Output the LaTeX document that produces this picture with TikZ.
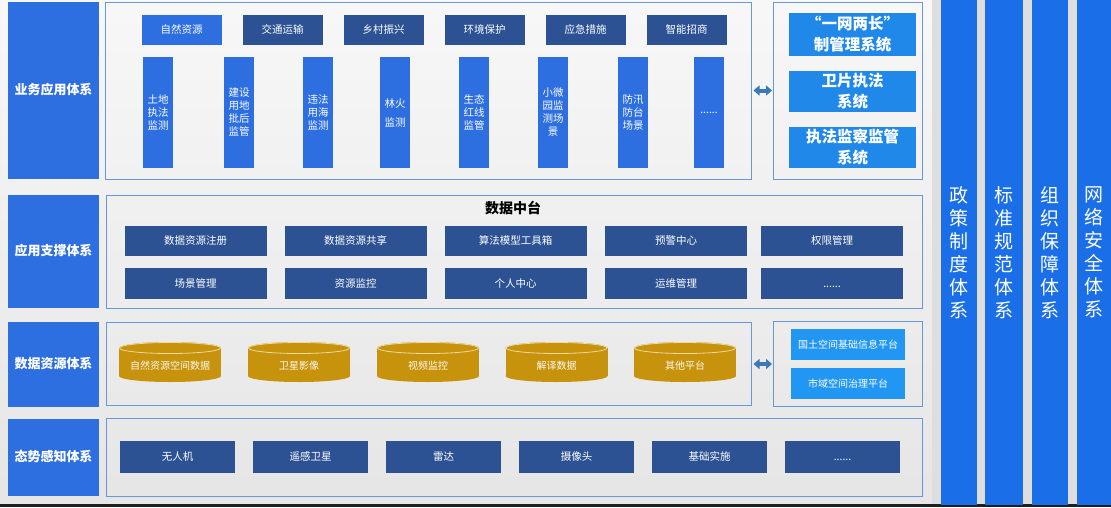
\documentclass[tikz,border=0pt]{standalone}
\usepackage{fontspec}
\setmainfont{Noto Sans CJK SC}
\usepackage{tikz}
\usetikzlibrary{arrows.meta}
\usetikzlibrary{positioning}
\definecolor{lblue}{HTML}{2D6EE1}
\definecolor{dblue}{HTML}{2C5294}
\definecolor{sblue}{HTML}{1F88E8}
\definecolor{pblue}{HTML}{2196F3}
\definecolor{cblue}{HTML}{1A6FE8}
\definecolor{framec}{HTML}{6B96DC}
\definecolor{gold}{HTML}{C8930C}
\definecolor{goldrim}{HTML}{EED9A0}
\definecolor{arrowc}{HTML}{3A78B8}
\newcommand{\moredots}{......}
\tikzset{oneline/.style = {text height=0.88em, text depth=0.12em}}
\tikzset{lbl/.style = {oneline, fill=lblue, text=white, font=\fontsize{13}{16}\selectfont\bfseries,
                       minimum width=91pt, minimum height=#1, inner sep=0}}
\tikzset{frame/.style 2 args = {draw=framec, line width=1pt, minimum width=#1, minimum height=#2, inner sep=0}}
\tikzset{box/.style = {text=white, font=\fontsize{10.5}{13}\selectfont, inner sep=0, align=center}}
\tikzset{bar/.style = {box, fill=lblue, minimum width=30pt, minimum height=111pt}}
\tikzset{sysbox/.style = {box, fill=sblue, font=\fontsize{15.5}{21}\selectfont\bfseries,
                          minimum width=127pt, minimum height=#1}}
\tikzset{platbox/.style = {box, oneline, fill=pblue, font=\fontsize{10}{12}\selectfont,
                           minimum width=114pt, minimum height=31pt}}
\tikzset{col/.style = {fill=cblue, text=white, font=\fontsize{19}{23}\selectfont, align=center,
                       minimum width=36pt, minimum height=505pt, inner sep=0}}
\tikzset{dblarrow/.style = {{Triangle[length=6pt,width=10pt]}-{Triangle[length=6pt,width=10pt]},
                            draw=arrowc, line width=4pt, shorten <=2pt, shorten >=0.5pt}}

\begin{document}
\begin{tikzpicture}[x=1pt, y=-1pt]
  \useasboundingbox (0, 0) rectangle (1111, 507);
  \shade [top color=black!3, bottom color=black!10] (0, 0) rectangle (932, 504);
  \fill [black!13] (932, 0) rectangle (1111, 504);
  \fill [black!88] (0, 504) rectangle (1111, 507);

  % layer titles
  \node [lbl=177pt] (l1) at (53.5, 90.5) {业务应用体系};
  \node [lbl=113pt] (l2) at (53.5, 251.5) {应用支撑体系};
  \node [lbl=85pt] (l3) at (53.5, 364.5) {数据资源体系};
  \node [lbl=77pt] (l4) at (53.5, 457.5) {态势感知体系};

  % frames
  \node [frame={646pt}{177pt}] (appframe) at (428, 90.5) {};
  \node [frame={149pt}{177pt}] (sysframe) at (847.5, 90.5) {};
  \node [frame={816pt}{113pt}] (midframe) at (514, 251.5) {};
  \node [frame={645pt}{83pt}] (dataframe) at (428.5, 364) {};
  \node [frame={149pt}{85pt}] (platframe) at (847.5, 364) {};
  \node [frame={816pt}{78pt}] (senseframe) at (514, 457) {};

  % business applications
  \foreach \i/\txt/\c in {0/自然资源/lblue, 1/交通运输/dblue, 2/乡村振兴/dblue,
                          3/环境保护/dblue, 4/应急措施/dblue, 5/智能招商/dblue}
    \node [box, oneline, fill=\c, minimum width=80pt, minimum height=30pt] (t\i) at (181.5 + 101*\i, 30) {\txt};
  \foreach \i/\x/\txt in {0/158/{土地\\执法\\监测}, 1/239/{建设\\用地\\批后\\监管}, 2/318/{违法\\用海\\监测},
                          3/395/{林火\\[6pt]监测}, 4/474/{生态\\红线\\监管}, 5/553/{小微\\园监\\测场\\景},
                          6/633/{防汛\\防台\\场景}, 7/709/{\moredots}}
    \node [bar] (b\i) at (\x, 112.5) {\txt};
  \node [sysbox=43pt] (s1) at (852.5, 34.5) {“一网两长”\\制管理系统};
  \node [sysbox=41pt] (s2) at (852.5, 91.5) {卫片执法\\系统};
  \node [sysbox=41pt] (s3) at (852.5, 147.5) {执法监察监管\\系统};
  \draw [dblarrow] (appframe) -- (sysframe);

  % data platform
  \node [font=\fontsize{14}{16}\selectfont\bfseries] (mid) at (513, 208) {数据中台};
  \foreach \i/\x/\up/\down in {0/195.5/数据资源注册/场景管理, 1/355.5/数据资源共享/资源监控,
                               2/515.5/算法模型工具箱/个人中心, 3/676/预警中心/运维管理, 4/832/权限管理/{\moredots}} {
    \node [box, oneline, fill=dblue, minimum width=142pt, minimum height=30pt] (m\i) at (\x, 241) {\up};
    \node [box, oneline, fill=dblue, minimum width=142pt, minimum height=31pt] (n\i) at (\x, 283.5) {\down};
  }

  % data resources
  \foreach \i/\x/\txt in {0/170/自然资源空间数据, 1/299/卫星影像, 2/428/视频监控, 3/556.5/解译数据, 4/685/其他平台} {
    \fill [gold] (\x - 51, 348) rectangle (\x + 51, 376);
    \fill [gold] (\x, 376) ellipse [x radius=51, y radius=6];
    \fill [gold] (\x, 348) ellipse [x radius=51, y radius=6];
    \draw [goldrim, line width=0.8pt] (\x, 348) ellipse [x radius=50.5, y radius=5.5];
    \node [box, oneline, text=white!95!gold, font=\fontsize{10}{12}\selectfont] (d\i) at (\x, 366) {\txt};
  }
  \node [platbox] (p1) at (848, 344.5) {国土空间基础信息平台};
  \node [platbox] (p2) at (848, 383.5) {市域空间治理平台};
  \draw [dblarrow] (dataframe) -- (platframe);

  % sensing
  \foreach \i/\txt in {0/无人机, 1/遥感卫星, 2/雷达, 3/摄像头, 4/基础实施, 5/{\moredots}}
    \node [box, oneline, fill=dblue, minimum width=115pt, minimum height=32pt] (e\i) at (177.5 + 133*\i, 457) {\txt};

  % side columns
  \node [col] (c1) at (959, 252.5) {政\\策\\制\\度\\体\\系};
  \node [col, minimum width=38pt] (c2) at (1004, 252.5) {标\\准\\规\\范\\体\\系};
  \node [col] (c3) at (1050, 252.5) {组\\织\\保\\障\\体\\系};
  \node [col, minimum width=35pt] (c4) at (1094, 252.5) {网\\络\\安\\全\\体\\系};
\end{tikzpicture}
\end{document}
